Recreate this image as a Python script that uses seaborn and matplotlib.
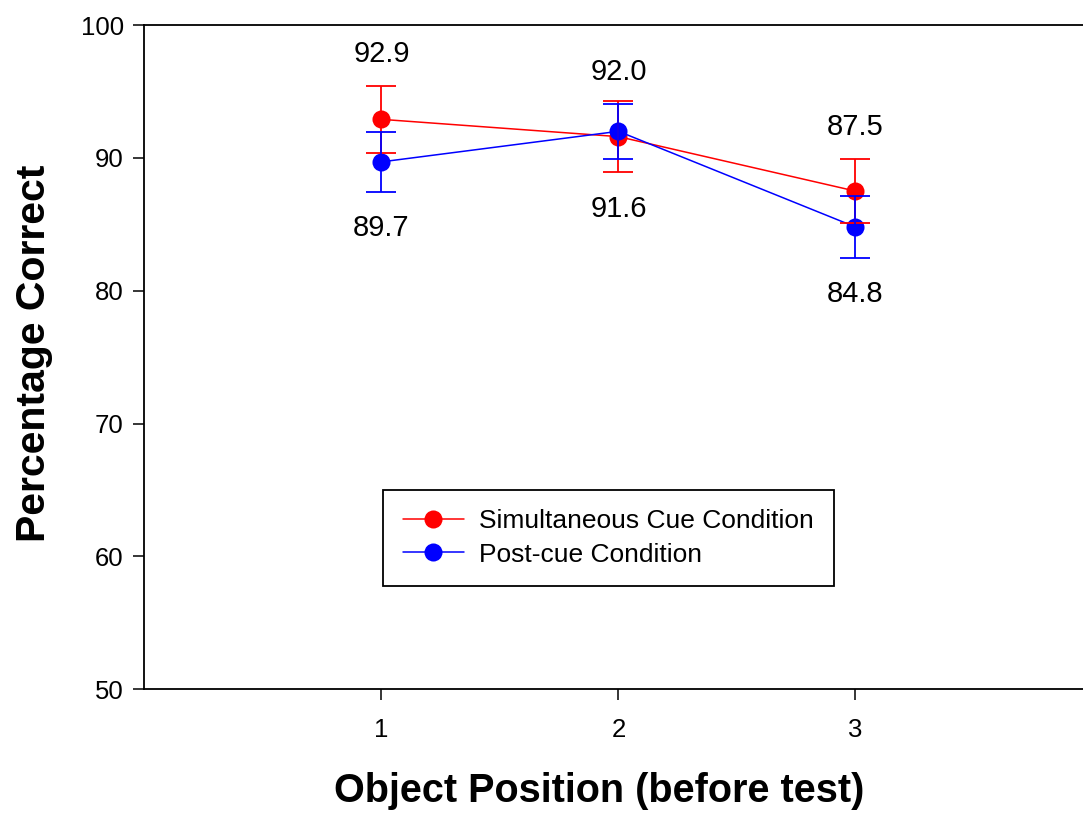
import numpy as np
import pandas as pd
import seaborn as sns
import matplotlib.pyplot as plt

# Values
positions = [1, 2, 3]
simultaneous = [92.9, 91.6, 87.5]
simultaneous_err = [2.5, 2.7, 2.4]
post_cue = [89.7, 92.0, 84.8]
post_cue_err = [2.25, 2.05, 2.35]
conditions = ['Simultaneous Cue Condition', 'Post-cue Condition']
colors = ['#ff0000', '#0000ff']

df = pd.DataFrame({
    'position': positions * 2,
    'pct': simultaneous + post_cue,
    'err': simultaneous_err + post_cue_err,
    'condition': [conditions[0]] * 3 + [conditions[1]] * 3,
})

sns.set_style('white')
plt.rcParams['font.family'] = ['Liberation Sans', 'DejaVu Sans']
plt.rcParams['text.color'] = 'black'
plt.rcParams['axes.labelcolor'] = 'black'
plt.rcParams['xtick.color'] = 'black'
plt.rcParams['ytick.color'] = 'black'

fig = plt.figure(figsize=(10.83, 8.15), dpi=100)
ax = fig.add_axes([0.1334, 0.1542, 0.8753, 0.8151])

# Lines with markers
sns.lineplot(data=df, x='position', y='pct', hue='condition',
             hue_order=conditions, palette=colors, marker='o',
             markersize=13, markeredgewidth=0, linewidth=1.1,
             ax=ax, legend=False)

# Error bars, red first then blue on top
for cond, col in zip(conditions, colors):
    sub = df[df['condition'] == cond]
    ax.errorbar(sub['position'], sub['pct'], yerr=sub['err'], fmt='none',
                ecolor=col, elinewidth=1.3, capsize=10.5, capthick=1.3)

# Value labels: the higher series above its bar, the lower one below
for i, x in enumerate(positions):
    a, b = simultaneous[i], post_cue[i]
    ea, eb = simultaneous_err[i], post_cue_err[i]
    if a >= b:
        top, etop, bot, ebot = a, ea, b, eb
    else:
        top, etop, bot, ebot = b, eb, a, ea
    ax.annotate(f'{top:.1f}', (x, top + etop), xytext=(0, 23),
                textcoords='offset points', ha='center', va='center',
                fontsize=21)
    ax.annotate(f'{bot:.1f}', (x, bot - ebot), xytext=(0, -26),
                textcoords='offset points', ha='center', va='center',
                fontsize=21)

ax.set_xlim(0, 4)
ax.set_ylim(50, 100)
ax.set_xticks(positions)
ax.set_yticks([50, 60, 70, 80, 90, 100])
ax.tick_params(axis='both', direction='out', length=8, width=1.1,
               labelsize=18.5, color='black', labelcolor='black')
ax.tick_params(axis='y', pad=7)
ax.tick_params(axis='x', pad=12.5)
ax.tick_params(left=True, bottom=True)

for side in ['left', 'bottom', 'top']:
    ax.spines[side].set_color('black')
    ax.spines[side].set_linewidth(1.3)
ax.spines['right'].set_visible(False)

ax.set_xlabel('Object Position (before test)', fontsize=28.5, fontweight='bold')
ax.set_ylabel('Percentage Correct', fontsize=29.5, fontweight='bold')
ax.xaxis.set_label_coords(0.48, -0.1697)
ax.xaxis.label.set_va('baseline')
ax.yaxis.set_label_coords(-0.117, 0.506)
ax.yaxis.label.set_va('center')

# Legend
handles = [plt.Line2D([], [], color=c, marker='o', markersize=13,
                      markeredgewidth=0, linewidth=1.1) for c in colors]
leg = ax.legend(handles, conditions, loc='center',
                bbox_to_anchor=(0.4895, 0.2278), fontsize=19,
                frameon=True, fancybox=False, framealpha=1,
                edgecolor='black', handlelength=2.3, handletextpad=0.6,
                borderpad=0.75, labelspacing=0.35, borderaxespad=0)
leg.get_frame().set_linewidth(1.3)

fig.savefig('out.png', dpi=100)
